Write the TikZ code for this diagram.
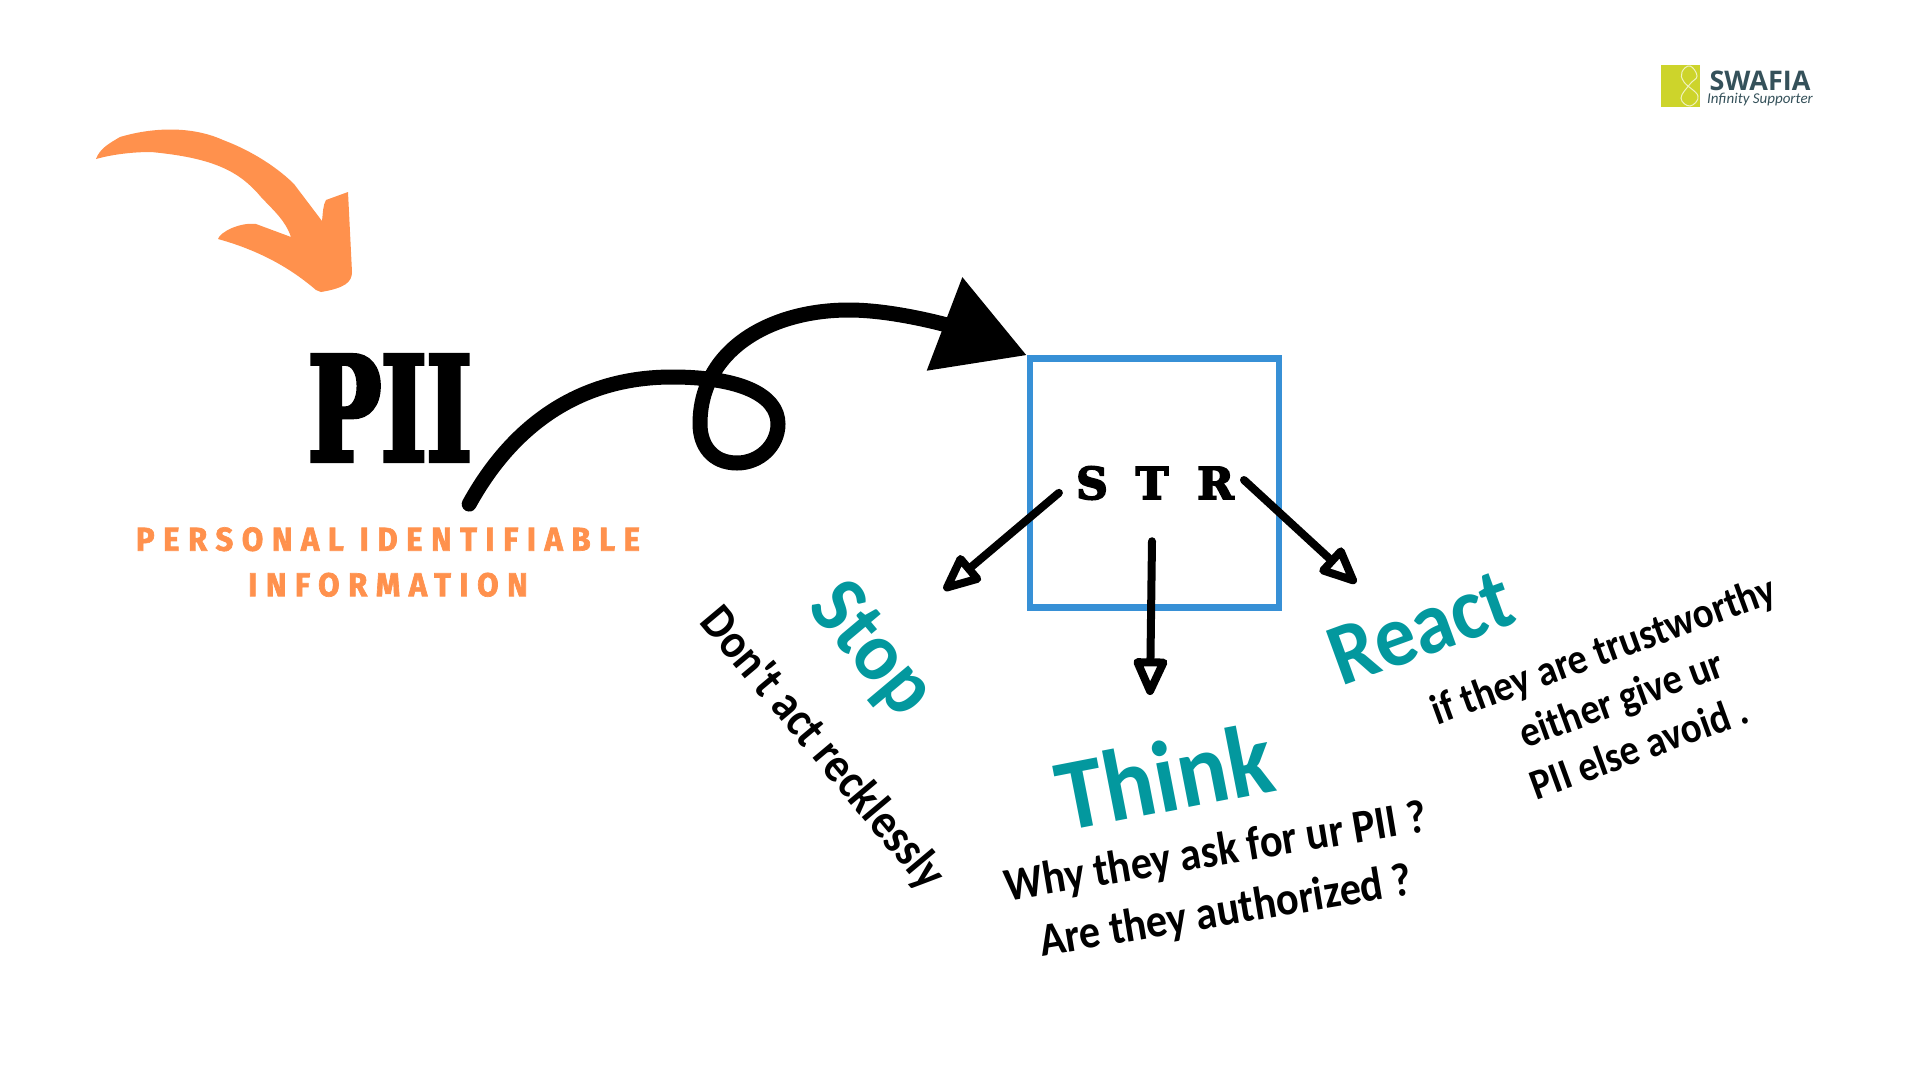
\documentclass[tikz,border=0pt]{standalone}
\usepackage{fontspec}
\usetikzlibrary{arrows.meta,calc}
\setmainfont{Carlito}
\newfontfamily\piifont[FakeStretch=0.67,FakeBold=3]{DejaVu Serif}
\newfontfamily\strfont[FakeBold=4]{DejaVu Serif}
\newfontfamily\subfont[LetterSpace=26,FakeStretch=0.94,FakeBold=2]{Fira Sans}
\newfontfamily\logofont{Open Sans}
\newfontfamily\wordfont[FakeStretch=0.93]{Carlito}
\newfontfamily\sayfont[FakeStretch=0.9]{Carlito}
\definecolor{pumpkin}{HTML}{FF914D}
\definecolor{tealish}{HTML}{03989E}
\definecolor{boxblue}{HTML}{3790D6}
\definecolor{lime}{HTML}{CDD42B}
\definecolor{slate}{HTML}{35515A}
\tikzset{
    word/.style={inner sep=0pt,font=\wordfont\bfseries\fontsize{#1}{#1}\selectfont,text=tealish},
    say/.style={inner sep=0pt,align=center,font=\sayfont\bfseries\fontsize{47}{#1}\selectfont},
    pointer/.style={line width=8pt,line cap=round,-{Triangle[open,round,length=43pt,width=36pt]}},
    letter/.style={inner sep=0pt,font=\strfont\bfseries\fontsize{44}{44}\selectfont}
}
\begin{document}
\begin{tikzpicture}[x=1pt,y=-1pt]
    \useasboundingbox (0,0) rectangle (1920,1080);
    % orange arrow
    \fill[pumpkin] (96,159) .. controls (100,148) and (110,143) .. (120,137)
        .. controls (150,128) and (190,125) .. (223,140)
        .. controls (255,152) and (280,170) .. (294,184)
        -- (322,221) .. controls (323,212) and (323,205) .. (326,200)
        -- (348,192) -- (352,272) .. controls (352,282) and (345,288) .. (321,292)
        -- (316,290) .. controls (295,272) and (265,252) .. (218,239)
        .. controls (220,232) and (240,222) .. (256,224)
        -- (291,237) .. controls (285,220) and (275,212) .. (261,197)
        .. controls (240,172) and (215,158) .. (151,152)
        .. controls (130,152) and (110,155) .. (96,159) -- cycle;
    % title
    \node[inner sep=0pt,font=\piifont\bfseries\fontsize{145}{145}\selectfont] (pii) at (390,408) {PII};
    \node[inner sep=0pt,align=center,text=pumpkin,font=\subfont\bfseries\fontsize{33}{45.5}\selectfont] (full) at (388,562) {PERSONAL IDENTIFIABLE\\INFORMATION};
    % box and letters
    \node[draw=boxblue,line width=6.5pt,minimum width=249pt,minimum height=249pt,inner sep=0pt] (strbox) at (1154.5,483) {};
    \node[letter] (S) at (1092,483) {S};
    \node[letter] (T) at (1152,483) {T};
    \node[letter] (R) at (1215.5,483) {R};
    \draw[line width=15pt,line cap=round,-{Triangle[length=88pt,width=96pt]}] ([xshift=-3pt,yshift=-43pt]pii.south east)
        .. controls (510,430) and (575,377) .. (672,377)
        .. controls (740,377) and (778,395) .. (778,424)
        .. controls (778,445) and (760,463) .. (737,463)
        .. controls (712,463) and (700,445) .. (700,424)
        .. controls (700,350) and (770,310) .. (849,310)
        .. controls (895,310) and (950,326) .. (strbox.north west);
    % ends of the three arrows
    \coordinate (stopend) at (944,590);
    \coordinate (thinkend) at (1150,695);
    \coordinate (reactend) at (1356,583);
    \draw[pointer] ([xshift=-17pt,yshift=7pt]S.south west) -- (stopend);
    \draw[pointer] ([yshift=-42pt]T.south) -- (thinkend);
    \draw[pointer] ([xshift=10pt,yshift=3pt]R.east) -- (reactend);
    % words
    \node[word=84,rotate=-50] (stop) at (870,651) {Stop};
    \node[word=102,rotate=11] (think) at (1164,776) {Think};
    \node[word=88,rotate=20] (react) at (1421,628) {React};
    \node[say=60,rotate=-50,font=\sayfont\bfseries\fontsize{49}{60}\selectfont] (stoptext) at (822,749) {Don't act recklessly};
    \node[say=60,rotate=9.5] (thinktext) at (1221,883) {Why they ask for ur PII ?\\Are they authorized ?};
    \node[say=52,rotate=20,font=\sayfont\bfseries\fontsize{43}{52}\selectfont] (reacttext) at (1621,698) {if they are trustworthy\\either give ur\\PII else avoid .};
    % logo
    \fill[lime] (1661,65) rectangle (1700,107);
    \draw[white!70!lime,line width=1pt] plot[smooth cycle,tension=0.7] coordinates {(1690,66) (1682,72) (1684,82) (1698,96) (1690,106) (1681,98) (1690,84) (1697,76)};
    \node[inner sep=0pt,text=slate,font=\logofont\bfseries\fontsize{27}{27}\selectfont] (swafia) at (1760,81) {SWAFIA};
    \node[inner sep=0pt,text=slate,font=\itshape\fontsize{15}{15}\selectfont] (tagline) at (1760,100) {Infinity Supporter};
\end{tikzpicture}
\end{document}
